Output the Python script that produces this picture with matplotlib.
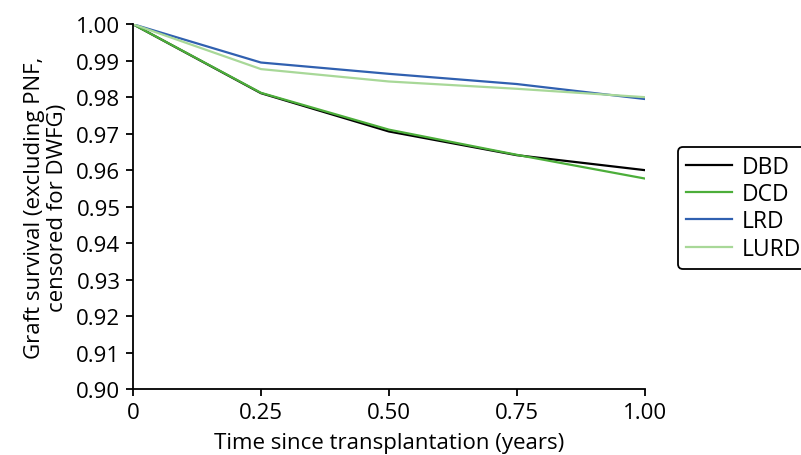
"""Graft survival by donor type, recreated with matplotlib."""
import matplotlib
matplotlib.use('Agg')
import matplotlib.pyplot as plt

# time points (years) and survival for each donor type
years = [0, 0.25, 0.50, 0.75, 1.00]
dbd = [1.0, 0.9811, 0.9706, 0.9641, 0.9600]
dcd = [1.0, 0.9812, 0.9711, 0.9642, 0.9577]
lrd = [1.0, 0.9895, 0.9864, 0.9836, 0.9795]
lurd = [1.0, 0.9877, 0.9843, 0.9823, 0.9800]

series = [('DBD', dbd, 'black'), ('DCD', dcd, '#4cae3a'),
          ('LRD', lrd, '#3060b0'), ('LURD', lurd, '#a8d898')]

x_ticks = [0, 0.25, 0.50, 0.75, 1.00]
x_labels = ['0', '0.25', '0.50', '0.75', '1.00']
y_ticks = [0.90 + 0.01 * i for i in range(11)]

plt.rcParams['font.family'] = ['Open Sans', 'DejaVu Sans']

fig = plt.figure(figsize=(8.01, 4.56), dpi=100)
ax = fig.add_axes([0.166, 0.1447, 0.639, 0.800])

for name, vals, col in series:
    ax.plot(years, vals, color=col, linewidth=1.6, label=name)

ax.set_xlim(0, 1.0)
ax.set_ylim(0.90, 1.00)
ax.set_xticks(x_ticks)
ax.set_xticklabels(x_labels)
ax.set_yticks(y_ticks)
ax.set_yticklabels(['%.2f' % v for v in y_ticks])
ax.tick_params(direction='out', length=5, width=1.3, labelsize=16, color='black', pad=4)

for side in ['top', 'right']:
    ax.spines[side].set_visible(False)
for side in ['left', 'bottom']:
    ax.spines[side].set_linewidth(1.3)

ax.set_xlabel('Time since transplantation (years)', fontsize=16, labelpad=7)
ax.set_ylabel('Graft survival (excluding PNF,\ncensored for DWFG)', fontsize=16,
              labelpad=6, linespacing=1.15)

leg = ax.legend(loc='upper left', bbox_to_anchor=(678 / 801, 1 - 148 / 456),
                bbox_transform=fig.transFigure, borderaxespad=0, fontsize=16.5,
                frameon=True, fancybox=True, edgecolor='black',
                handlelength=2.0, borderpad=0.35, labelspacing=0.14, handletextpad=0.45)
leg.get_frame().set_linewidth(1.3)
leg.get_frame().set_alpha(1)

fig.savefig('out.png', dpi=100)
